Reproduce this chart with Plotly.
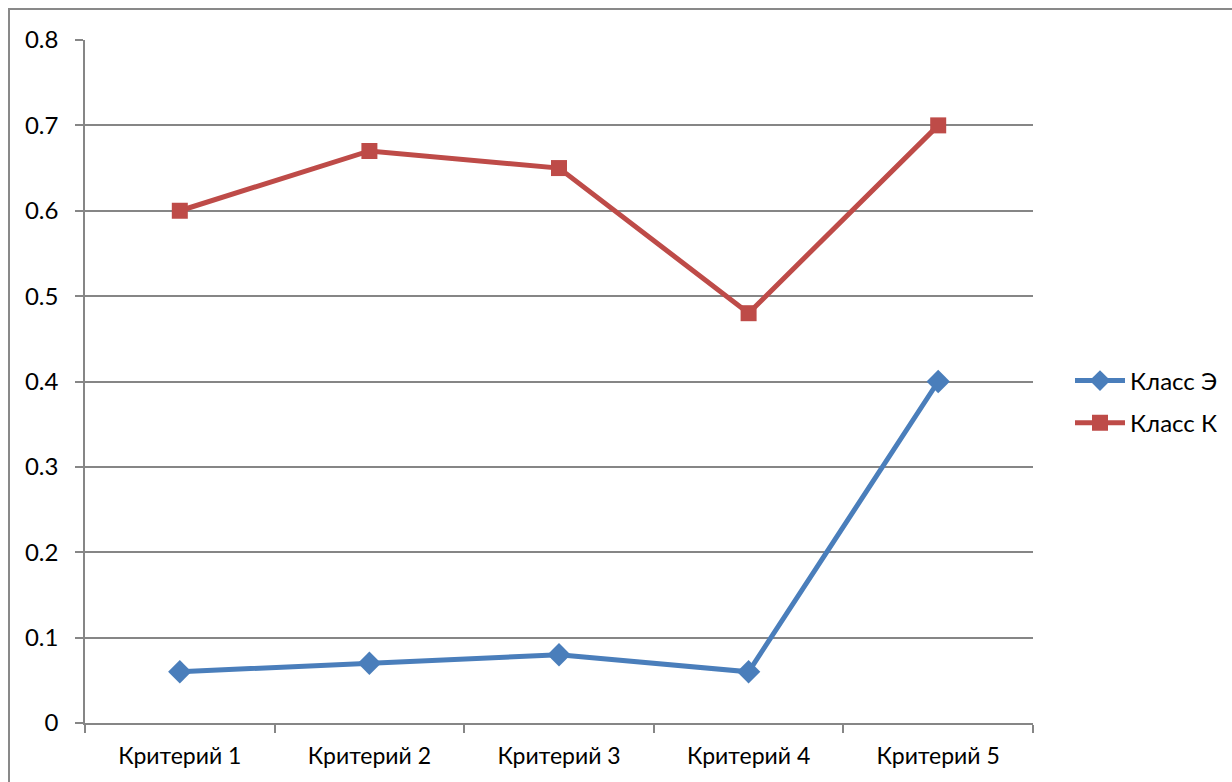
import plotly.graph_objects as go

categories = ["Критерий 1", "Критерий 2", "Критерий 3", "Критерий 4", "Критерий 5"]
klass_e = [0.06, 0.07, 0.08, 0.06, 0.40]
klass_k = [0.60, 0.67, 0.65, 0.48, 0.70]
y_ticks = [0, 0.1, 0.2, 0.3, 0.4, 0.5, 0.6, 0.7, 0.8]
y_labels = ["0", "0.1", "0.2", "0.3", "0.4", "0.5", "0.6", "0.7", "0.8"]

W, H = 1232, 782
L, R, T, B = 85, 199, 40, 59
pw, ph = W - L - R, H - T - B

fig = go.Figure()
fig.add_trace(go.Scatter(
    x=categories, y=klass_e, name="Класс Э", mode="lines+markers",
    legendgroup="e",
    line=dict(color="#4A7EBB", width=5),
    marker=dict(symbol="diamond", size=18, color="#4A7EBB"),
))
fig.add_trace(go.Scatter(
    x=categories, y=klass_k, name="Класс К", mode="lines+markers",
    legendgroup="k",
    line=dict(color="#BE4B48", width=5),
    marker=dict(symbol="square", size=16, color="#BE4B48"),
))

grid = "#868686"
fig.update_layout(
    width=W, height=H,
    margin=dict(l=L, r=R, t=T, b=B, autoexpand=False),
    paper_bgcolor="white", plot_bgcolor="white",
    font=dict(family="Lato, 'Open Sans', sans-serif", color="black"),
    showlegend=True,
    legend=dict(x=(1070 - L) / pw, y=(723 - 402) / ph, xanchor="left", yanchor="middle",
                font=dict(size=24), itemwidth=50, tracegroupgap=8,
                bgcolor="rgba(0,0,0,0)"),
    xaxis=dict(type="category", range=[-0.5, 4.5], tickson="boundaries",
               ticks="outside", ticklen=8, tickcolor=grid, tickwidth=1.5,
               showline=True, linecolor=grid, linewidth=1.5,
               showgrid=False, tickfont=dict(size=23), ticklabelstandoff=12),
    yaxis=dict(range=[0, 0.8], tickvals=y_ticks, ticktext=y_labels,
               ticks="outside", ticklen=8, tickcolor=grid, tickwidth=1.5,
               showline=True, linecolor=grid, linewidth=1.5,
               showgrid=True, gridcolor=grid, gridwidth=1.5,
               zeroline=False, tickfont=dict(size=24), ticklabelstandoff=12),
    shapes=[dict(type="rect", xref="paper", yref="paper",
                 x0=(9 - L) / pw, x1=1.6, y0=-0.5, y1=(H - B - 9) / ph,
                 line=dict(color="#898989", width=2), layer="below")],
)

fig.write_html("out.html")
